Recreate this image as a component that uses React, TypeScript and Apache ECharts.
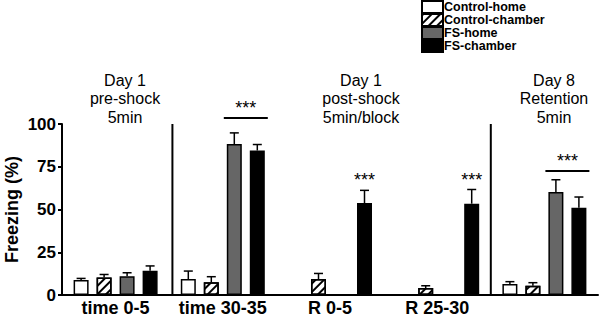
import React, { useEffect, useRef } from 'react';
import * as echarts from 'echarts';

const categories = ['time 0-5', 'time 30-35', 'R 0-5', 'R 25-30', ''];
const seriesNames = ['Control-home', 'Control-chamber', 'FS-home', 'FS-chamber'];
const controlHome = [8.7, 9.3, null, null, 6.4];
const controlHomeSem = [1.0, 4.7, null, null, 1.4];
const controlChamber = [10.3, 7.4, 9.3, 4.1, 5.4];
const controlChamberSem = [1.7, 3.3, 3.3, 1.3, 1.8];
const fsHome = [11, 88.3, null, null, 60.2];
const fsHomeSem = [2, 6.5, null, null, 7.2];
const fsChamber = [14.2, 84.5, 53.8, 53.4, 51];
const fsChamberSem = [2.8, 3.5, 7.4, 8.3, 6.3];
const yTickMax = 100;
const yTickStep = 25;
const panelTitles = ['Day 1\npre-shock\n5min', 'Day 1\npost-shock\n5min/block', 'Day 8\nRetention\n5min'];
// [category, fromSeries, toSeries, lineLevel, textLevel]
const sigBrackets = [
  [1, 2, 3, 103.5, 109.5],
  [4, 2, 3, 72.5, 78.5],
];
// [category, series, textLevel]
const sigSingles = [
  [2, 3, 67.5],
  [3, 3, 67.5],
];
// separators, in category units (boundary after category)
const separators = [0.53, 3.5];

const FONT = '"Liberation Sans", Arial, Helvetica, sans-serif';
const BAR_W = 15;
const PITCH = 23;

export default function App() {
  const ref = useRef<HTMLDivElement>(null);
  useEffect(() => {
    if (!ref.current) return;
    const chart = echarts.init(ref.current, undefined, { renderer: 'svg' });
    const values = [controlHome, controlChamber, fsHome, fsChamber];
    const sems = [controlHomeSem, controlChamberSem, fsHomeSem, fsChamberSem];
    const fills = ['#ffffff', '#ffffff', '#666666', '#000000'];

    const errData: number[][] = [];
    values.forEach((arr, s) => {
      arr.forEach((v, c) => {
        if (v != null && sems[s][c] != null) errData.push([c, v as number, sems[s][c] as number, s]);
      });
    });

    const barSeries = seriesNames.map((name, s) => ({
      name,
      type: 'bar',
      data: values[s],
      barWidth: BAR_W,
      barGap: ((PITCH - BAR_W) / BAR_W * 100).toFixed(2) + '%',
      itemStyle: {
        color: fills[s],
        borderColor: '#000',
        borderWidth: 1.5,
        ...(s === 1
          ? {
              decal: {
                symbol: 'rect',
                symbolSize: 1,
                color: '#000',
                dashArrayX: [1, 0],
                dashArrayY: [2, 4],
                rotation: -Math.PI / 4,
              },
            }
          : {}),
      },
      emphasis: { disabled: true },
      z: 2,
    }));

    const option: any = {
      animation: false,
      textStyle: { fontFamily: FONT },
      grid: { left: 62, right: 1, top: 124, bottom: 24, containLabel: false, outerBoundsMode: 'none' },
      legend: {
        data: seriesNames,
        orient: 'vertical',
        left: 421,
        top: 0,
        itemWidth: 21,
        itemHeight: 12,
        itemGap: -1,
        padding: 0,
        icon: 'rect',
        selectedMode: false,
        textStyle: { fontFamily: FONT, fontWeight: 'bold', fontSize: 12.5, lineHeight: 12, color: '#000', padding: [0, 0, 0, -4] },
      },
      xAxis: {
        type: 'category',
        data: categories,
        axisLine: { lineStyle: { color: '#000', width: 2 } },
        axisTick: { show: false },
        axisLabel: { color: '#000', fontWeight: 'bold', fontSize: 18, margin: 4, fontFamily: FONT, interval: 0 },
      },
      yAxis: {
        type: 'value',
        min: 0,
        max: yTickMax,
        interval: yTickStep,
        name: 'Freezing (%)',
        nameLocation: 'middle',
        nameGap: 41,
        nameMoveOverlap: false,
        nameTextStyle: { color: '#000', fontWeight: 'bold', fontSize: 18, fontFamily: FONT },
        axisLine: { show: true, lineStyle: { color: '#000', width: 2 } },
        axisTick: { show: true, length: 4, lineStyle: { color: '#000', width: 2 } },
        axisLabel: { color: '#000', fontWeight: 'bold', fontSize: 17, margin: 6, fontFamily: FONT },
        splitLine: { show: false },
      },
      graphic: [
        { type: 'text', x: 125, y: 71, style: { text: panelTitles[0], fontSize: 16, lineHeight: 18.5, fontFamily: FONT, fill: '#000', align: 'center' } },
        { type: 'text', x: 361, y: 71, style: { text: panelTitles[1], fontSize: 16, lineHeight: 18.5, fontFamily: FONT, fill: '#000', align: 'center' } },
        { type: 'text', x: 554, y: 71, style: { text: panelTitles[2], fontSize: 16, lineHeight: 18.5, fontFamily: FONT, fill: '#000', align: 'center' } },
      ],
      series: [
        ...barSeries,
        {
          type: 'custom',
          data: errData,
          encode: { x: 0, y: 1 },
          z: 5,
          silent: true,
          renderItem: (params: any, api: any) => {
            const c = api.value(0);
            const m = api.value(1);
            const e = api.value(2);
            const s = api.value(3);
            const base = api.coord([c, m]);
            const top = api.coord([c, m + e]);
            const x = base[0] + (s - 1.5) * PITCH;
            const st = { stroke: '#000', lineWidth: 1.5 };
            return {
              type: 'group',
              children: [
                { type: 'line', shape: { x1: x, y1: base[1], x2: x, y2: top[1] }, style: st },
                { type: 'line', shape: { x1: x - 4.5, y1: top[1], x2: x + 4.5, y2: top[1] }, style: st },
              ],
            };
          },
        },
        {
          type: 'custom',
          data: sigBrackets,
          encode: { x: 0, y: 3 },
          z: 5,
          silent: true,
          clip: false,
          renderItem: (params: any, api: any) => {
            const c = api.value(0);
            const a = api.value(1);
            const b = api.value(2);
            const lv = api.coord([c, api.value(3)]);
            const tv = api.coord([c, api.value(4)]);
            const x1 = lv[0] + (a - 1.5) * PITCH - BAR_W / 2 - 3;
            const x2 = lv[0] + (b - 1.5) * PITCH + BAR_W / 2 + 3;
            return {
              type: 'group',
              children: [
                { type: 'line', shape: { x1, y1: lv[1], x2, y2: lv[1] }, style: { stroke: '#000', lineWidth: 2 } },
                { type: 'text', x: (x1 + x2) / 2, y: tv[1], style: { text: '***', fontSize: 18, fontFamily: FONT, fill: '#000', align: 'center', verticalAlign: 'middle' } },
              ],
            };
          },
        },
        {
          type: 'custom',
          data: sigSingles,
          encode: { x: 0, y: 2 },
          z: 5,
          silent: true,
          clip: false,
          renderItem: (params: any, api: any) => {
            const c = api.value(0);
            const s = api.value(1);
            const tv = api.coord([c, api.value(2)]);
            const x = tv[0] + (s - 1.5) * PITCH;
            return { type: 'text', x, y: tv[1], style: { text: '***', fontSize: 18, fontFamily: FONT, fill: '#000', align: 'center', verticalAlign: 'middle' } };
          },
        },
        {
          type: 'custom',
          data: separators.map((p) => [p]),
          encode: { x: 0 },
          z: 4,
          silent: true,
          clip: false,
          renderItem: (params: any, api: any) => {
            const p = api.value(0);
            const c0 = api.coord([0, 0]);
            const cTop = api.coord([0, yTickMax]);
            const w = api.size([1, 0])[0];
            const x = c0[0] + p * w;
            return { type: 'line', shape: { x1: x, y1: c0[1], x2: x, y2: cTop[1] }, style: { stroke: '#000', lineWidth: 2 } };
          },
        },
      ],
    };
    chart.setOption(option);
    return () => chart.dispose();
  }, []);
  return <div ref={ref} style={{ width: 599, height: 319, position: 'absolute', left: 0, top: 0 }} />;
}
